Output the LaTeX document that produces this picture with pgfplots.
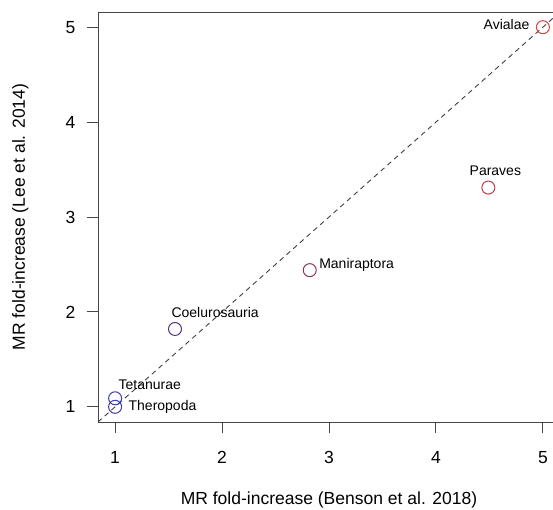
\documentclass[border=0pt]{standalone}
\usepackage{pgfplots}
\pgfplotsset{compat=1.18}
\usepackage{fontspec}
\setmainfont{Liberation Sans}

\definecolor{cBlue}{RGB}{62,60,170}
\definecolor{cPurple}{RGB}{84,52,132}
\definecolor{cPlum}{RGB}{140,52,92}
\definecolor{cRose}{RGB}{196,60,72}
\definecolor{cRed}{RGB}{222,62,62}
\definecolor{frame}{RGB}{70,70,70}

\newcommand{\axfont}{\fontsize{17.5bp}{21bp}\selectfont}
\newcommand{\ptfont}{\fontsize{14bp}{17bp}\selectfont}

\begin{document}
\begin{tikzpicture}
\begin{axis}[
  scale only axis,
  width=462bp, height=410bp,
  xmin=0.84, xmax=5.16, ymin=0.84, ymax=5.16,
  xtick={1,2,3,4,5}, ytick={1,2,3,4,5},
  xtick pos=bottom, ytick pos=left,
  tick align=outside,
  major tick length=11bp,
  axis line style={draw=frame, line width=0.9bp},
  tick style={draw=frame, line width=0.9bp},
  /pgf/number format/assume math mode=true,
  ticklabel style={font=\axfont},
  xticklabel style={anchor=north, yshift=-15bp},
  yticklabel style={anchor=east, xshift=-8bp},
  clip=false,
]
% 1:1 reference line
\addplot[draw=black!75, line width=0.9bp, dash pattern=on 5bp off 4bp]
  coordinates {(0.84,0.84) (5.16,5.16)};

% clades, coloured from stem (blue) to crown (red)
\addplot[only marks, mark=o, mark size=6.5bp, draw=cBlue, line width=1bp]
  coordinates {(1.00,1.00) (1.00,1.09)};
\addplot[only marks, mark=o, mark size=6.5bp, draw=cPurple, line width=1bp]
  coordinates {(1.56,1.82)};
\addplot[only marks, mark=o, mark size=6.5bp, draw=cPlum, line width=1bp]
  coordinates {(2.82,2.44)};
\addplot[only marks, mark=o, mark size=6.5bp, draw=cRose, line width=1bp]
  coordinates {(4.49,3.31)};
\addplot[only marks, mark=o, mark size=6.5bp, draw=cRed, line width=1bp]
  coordinates {(5.00,5.00)};

\node[font=\ptfont, anchor=base west, xshift=10bp, yshift=-4bp] at (axis cs:1.00,1.00) {Theropoda};
\node[font=\ptfont, anchor=base west, xshift=0bp, yshift=9bp] at (axis cs:1.00,1.09) {Tetanurae};
\node[font=\ptfont, anchor=base west, xshift=-7bp, yshift=11bp] at (axis cs:1.56,1.82) {Coelurosauria};
\node[font=\ptfont, anchor=base west, xshift=6bp, yshift=2bp] at (axis cs:2.82,2.44) {Maniraptora};
\node[font=\ptfont, anchor=base, xshift=7bp, yshift=12bp] at (axis cs:4.49,3.31) {Paraves};
\node[font=\ptfont, anchor=base east, xshift=-10bp, yshift=-2bp] at (axis cs:5.00,5.00) {Avialae};

% axis titles
\node[font=\axfont, anchor=base] at ([yshift=-82bp]rel axis cs:0.5,0) {MR fold-increase (Benson et al. 2018)};
\node[font=\axfont, anchor=base, rotate=90] at ([xshift=-73bp]rel axis cs:0,0.5) {MR fold-increase (Lee et al. 2014)};
\end{axis}
\pgfresetboundingbox
\path[use as bounding box] (-98bp,-88bp) rectangle (455bp,422bp);
\end{tikzpicture}
\end{document}
